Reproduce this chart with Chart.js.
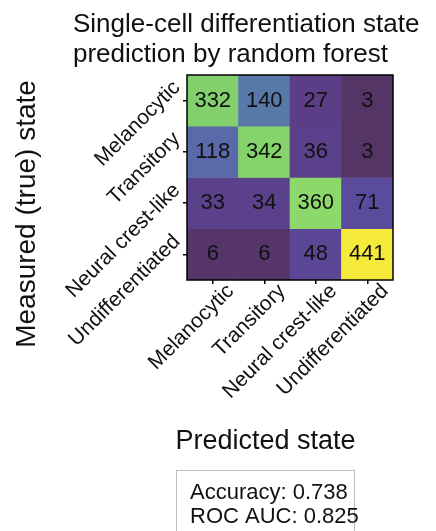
<!DOCTYPE html>
<html>
<head>
<meta charset="utf-8">
<script src="https://cdn.jsdelivr.net/npm/chart.js@4/dist/chart.umd.min.js"></script>
<style>
  html, body { margin: 0; padding: 0; background: #ffffff; }
  #wrap { width: 436px; height: 531px; position: relative; }
</style>
</head>
<body>
<div id="wrap"><canvas id="chart" width="436" height="531"></canvas></div>
<script>
// Confusion matrix of the random-forest classifier
const predictedStates = ['Melanocytic', 'Transitory', 'Neural crest-like', 'Undifferentiated'];
const measuredStates = ['Melanocytic', 'Transitory', 'Neural crest-like', 'Undifferentiated'];

// one row per measured (true) state, columns follow predictedStates
const rowMelanocytic = [332, 140, 27, 3];
const rowTransitory = [118, 342, 36, 3];
const rowNeuralCrest = [33, 34, 360, 71];
const rowUndifferentiated = [6, 6, 48, 441];

const accuracy = 0.738;
const rocAuc = 0.825;

const rows = [rowMelanocytic, rowTransitory, rowNeuralCrest, rowUndifferentiated];
const maxCount = Math.max(...rows.flat());

// light viridis-style colour ramp
const rampStops = [
  [0.00, [84, 52, 98]],
  [0.06, [91, 62, 133]],
  [0.11, [92, 70, 150]],
  [0.16, [91, 75, 156]],
  [0.27, [90, 106, 168]],
  [0.32, [88, 121, 168]],
  [0.50, [72, 162, 142]],
  [0.75, [128, 208, 108]],
  [0.82, [142, 216, 106]],
  [1.00, [245, 233, 58]]
];
function rampColor(v) {
  const t = Math.max(0, Math.min(1, v / maxCount));
  for (let i = 1; i < rampStops.length; i++) {
    const [t1, c1] = rampStops[i];
    const [t0, c0] = rampStops[i - 1];
    if (t <= t1) {
      const f = (t - t0) / (t1 - t0);
      const c = c0.map((a, k) => Math.round(a + (c1[k] - a) * f));
      return `rgb(${c[0]},${c[1]},${c[2]})`;
    }
  }
  const c = rampStops[rampStops.length - 1][1];
  return `rgb(${c[0]},${c[1]},${c[2]})`;
}

const FONT = '"Liberation Sans", Arial, Helvetica, sans-serif';

// each measured state is a band [r, r+1] on the vertical scale
const datasets = rows.map((row, r) => ({
  label: measuredStates[r],
  data: predictedStates.map(() => [r, r + 1]),
  counts: row,
  backgroundColor: row.map(rampColor),
  borderWidth: 0,
  barPercentage: 1,
  categoryPercentage: 1,
  grouped: false
}));

const annotate = {
  id: 'annotate',
  afterDatasetsDraw(chart) {
    const { ctx, chartArea, scales } = chart;
    const xs = scales.x, ys = scales.y;
    ctx.save();

    // counts in the cells
    ctx.font = '22px ' + FONT;
    ctx.fillStyle = '#111111';
    ctx.textAlign = 'center';
    ctx.textBaseline = 'middle';
    chart.data.datasets.forEach((ds, r) => {
      chart.getDatasetMeta(r).data.forEach((bar, c) => {
        ctx.fillText(String(ds.counts[c]), bar.x, (bar.y + bar.base) / 2);
      });
    });

    // frame
    ctx.strokeStyle = '#000000';
    ctx.lineWidth = 1.5;
    ctx.strokeRect(chartArea.left, chartArea.top, chartArea.width, chartArea.height);

    // rotated tick labels
    ctx.fillStyle = '#111111';
    ctx.font = '21px ' + FONT;
    ctx.textAlign = 'right';
    ctx.textBaseline = 'alphabetic';
    measuredStates.forEach((name, r) => {
      const ty = ys.getPixelForValue(r + 0.5);
      ctx.save();
      ctx.translate(chartArea.left - 6, ty - 12);
      ctx.rotate(-Math.PI / 4);
      ctx.fillText(name, 0, 0);
      ctx.restore();
    });
    predictedStates.forEach((name, c) => {
      const tx = xs.getPixelForValue(c);
      ctx.save();
      ctx.translate(tx + 22, chartArea.bottom + 12);
      ctx.rotate(-Math.PI / 4);
      ctx.fillText(name, 0, 0);
      ctx.restore();
    });

    // title
    ctx.font = '26px ' + FONT;
    ctx.textAlign = 'left';
    ctx.fillText('Single-cell differentiation state', 73, 32);
    ctx.fillText('prediction by random forest', 73, 62);

    // axis titles
    ctx.textAlign = 'center';
    ctx.font = '27px ' + FONT;
    ctx.fillText('Predicted state', 265.5, 449);
    ctx.save();
    ctx.font = '28px ' + FONT;
    ctx.translate(35, 214);
    ctx.rotate(-Math.PI / 2);
    ctx.fillText('Measured (true) state', 0, 0);
    ctx.restore();

    // score box
    ctx.strokeStyle = '#bdbdbd';
    ctx.lineWidth = 1;
    ctx.strokeRect(176.5, 470.5, 178, 80);
    ctx.font = '22px ' + FONT;
    ctx.textAlign = 'left';
    ctx.fillText('Accuracy: ' + accuracy.toFixed(3), 190, 499);
    ctx.fillText('ROC AUC: ' + rocAuc.toFixed(3), 190, 523);

    ctx.restore();
  }
};

new Chart(document.getElementById('chart'), {
  type: 'bar',
  data: { labels: predictedStates, datasets },
  options: {
    responsive: false,
    animation: false,
    events: [],
    layout: { padding: { left: 177, right: 43, top: 75, bottom: 241 } },
    plugins: { legend: { display: false }, tooltip: { enabled: false }, title: { display: false } },
    scales: {
      x: {
        type: 'category',
        offset: true,
        ticks: { display: false },
        grid: { display: true, drawOnChartArea: false, drawTicks: true, tickLength: 4, color: '#000000', lineWidth: 1.5, offset: false },
        border: { display: false },
        afterFit(scale) { scale.height = 10; }
      },
      y: {
        type: 'linear',
        min: 0,
        max: 4,
        reverse: true,
        afterBuildTicks(scale) { scale.ticks = [0.5, 1.5, 2.5, 3.5].map(v => ({ value: v })); },
        ticks: { display: false },
        grid: { display: true, drawOnChartArea: false, drawTicks: true, tickLength: 4, color: '#000000', lineWidth: 1.5 },
        border: { display: false },
        afterFit(scale) { scale.width = 10; }
      }
    }
  },
  plugins: [annotate]
});
</script>
</body>
</html>
